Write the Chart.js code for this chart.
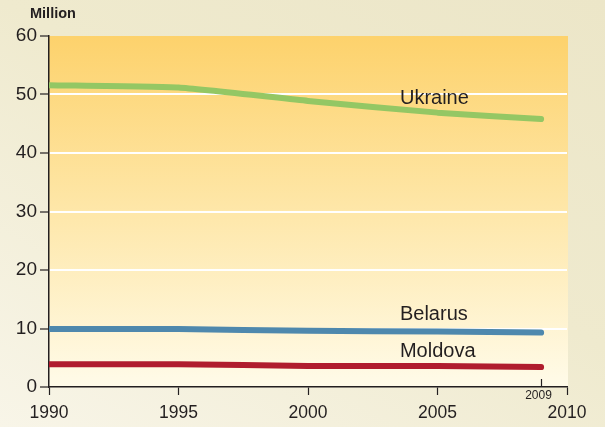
<!DOCTYPE html>
<html><head><meta charset="utf-8">
<script src="https://cdn.jsdelivr.net/npm/chart.js@4"></script>
<style>
html,body{margin:0;padding:0;}
body{width:605px;height:427px;background:linear-gradient(30deg,#f8f5e8 0%,#efeace 55%,#ece6c8 100%);}
#c{display:block;}
</style></head><body>
<canvas id="c" width="605" height="427"></canvas>
<script>
const years = [1990, 1995, 2000, 2005, 2009];
const ukraine = [51.6, 51.2, 48.9, 46.9, 45.8];
const belarus = [9.9, 9.9, 9.6, 9.5, 9.3];
const moldova = [3.9, 3.9, 3.6, 3.6, 3.4];
const seriesNames = ['Ukraine', 'Belarus', 'Moldova'];
const labelPos = [[2003.55, 49.4], [2003.55, 12.4], [2003.55, 6.1]];
const unitLabel = 'Million';
const extraTick = 2009;

const ink = '#231f20';
const FONT = '"Liberation Sans", Arial, sans-serif';
const toPts = arr => years.map((y, i) => ({x: y, y: arr[i]}));

const bgPlugin = {
  id: 'bg',
  beforeDraw(chart) {
    const {ctx, chartArea: a} = chart;
    const g = ctx.createLinearGradient(0, a.top, 0, a.bottom);
    g.addColorStop(0, '#fdd26c');
    g.addColorStop(0.5, '#fee7a9');
    g.addColorStop(1, '#fffbe9');
    ctx.save();
    ctx.fillStyle = g;
    ctx.fillRect(a.left, a.top, a.right - a.left + 1, a.bottom - a.top);
    ctx.restore();
  },
  afterDraw(chart) {
    const {ctx, scales: {x, y}} = chart;
    ctx.save();
    ctx.fillStyle = ink;
    ctx.font = 'bold 14.5px ' + FONT;
    ctx.textAlign = 'left';
    ctx.textBaseline = 'middle';
    ctx.fillText(unitLabel, 30, 14);
    ctx.font = '20px ' + FONT;
    seriesNames.forEach((n, i) => {
      ctx.fillText(n, x.getPixelForValue(labelPos[i][0]), y.getPixelForValue(labelPos[i][1]));
    });
    const px = Math.round(x.getPixelForValue(extraTick)) + 0.5;
    const py = y.getPixelForValue(0);
    ctx.strokeStyle = ink;
    ctx.lineWidth = 1.2;
    ctx.beginPath();
    ctx.moveTo(px, py - 8);
    ctx.lineTo(px, py);
    ctx.stroke();
    ctx.font = '12px ' + FONT;
    ctx.textAlign = 'center';
    ctx.fillText(String(extraTick), px - 3, py + 9);
    ctx.restore();
  }
};

const lineDs = (label, data, color) => ({
  label, data: toPts(data), borderColor: color, backgroundColor: color,
  borderWidth: 6, pointRadius: 0, tension: 0.15,
  borderCapStyle: 'round', borderJoinStyle: 'round', fill: false
});

new Chart(document.getElementById('c'), {
  type: 'line',
  data: {
    datasets: [
      lineDs(seriesNames[1], belarus, '#4e88ad'),
      lineDs(seriesNames[2], moldova, '#b01c2e'),
      lineDs(seriesNames[0], ukraine, '#94c764')
    ]
  },
  options: {
    responsive: false,
    animation: false,
    devicePixelRatio: 1,
    layout: {padding: {top: 36, right: 38, bottom: 0, left: 0}},
    plugins: {legend: {display: false}, tooltip: {enabled: false}},
    scales: {
      x: {
        type: 'linear', min: 1990, max: 2010,
        afterFit(s) { s.height = 40; },
        ticks: {stepSize: 5, color: ink, font: {size: 17.5, family: FONT}, padding: 8, maxRotation: 0,
          callback: v => String(v)},
        grid: {drawOnChartArea: false, drawTicks: true, tickLength: 8, tickColor: ink, tickWidth: 1.2},
        border: {display: true, color: ink, width: 1.5}
      },
      y: {
        min: 0, max: 60,
        afterFit(s) { s.width = 49; },
        ticks: {stepSize: 10, color: ink, font: {size: 19, family: FONT}, padding: 3,
          callback: v => String(v)},
        grid: {
          drawTicks: true, tickLength: 9, tickColor: ink, tickWidth: 1.2,
          color: c => (c.tick && c.tick.value > 0 && c.tick.value < 60) ? '#ffffff' : 'rgba(0,0,0,0)',
          lineWidth: 2
        },
        border: {display: true, color: ink, width: 1.5}
      }
    }
  },
  plugins: [bgPlugin]
});
</script>
</body></html>
